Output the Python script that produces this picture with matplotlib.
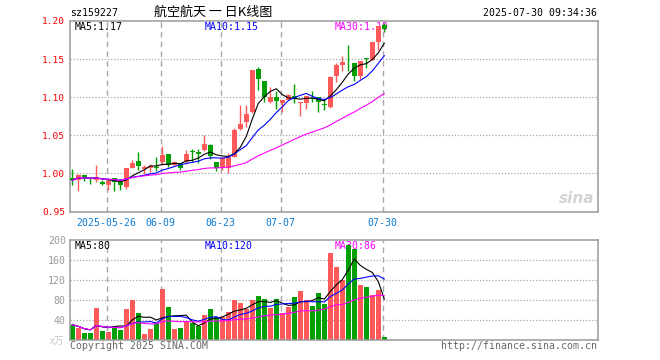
import matplotlib
matplotlib.use("Agg")
import matplotlib.pyplot as plt
import numpy as np
import pandas as pd

# ---------------- data ----------------
dates = ["05-16", "05-19", "05-20", "05-21", "05-22", "05-23", "05-26", "05-27", "05-28", "05-29",
         "05-30", "06-03", "06-04", "06-05", "06-06", "06-09", "06-10", "06-11", "06-12", "06-13",
         "06-16", "06-17", "06-18", "06-19", "06-20", "06-23", "06-24", "06-25", "06-26", "06-27",
         "06-30", "07-01", "07-02", "07-03", "07-04", "07-07", "07-08", "07-09", "07-10", "07-11",
         "07-14", "07-15", "07-16", "07-17", "07-18", "07-21", "07-22", "07-23", "07-24", "07-25",
         "07-28", "07-29", "07-30"]
opens = [0.994, 0.991, 0.998, 0.9934, 0.9917, 0.9886, 0.9846, 0.9943, 0.989, 0.9816,
         1.0075, 1.0167, 1.0053, 1.0074, 1.0087, 1.0150, 1.0250, 1.0110, 1.0140, 1.0150,
         1.0294, 1.0276, 1.0307, 1.0373, 1.0145, 1.0070, 1.0075, 1.0210, 1.0583, 1.0680,
         1.0810, 1.1370, 1.1210, 1.0943, 1.1000, 1.0920, 1.0965, 1.1022, 1.0930, 1.0921,
         1.0996, 1.1000, 1.0912, 1.0868, 1.1272, 1.1417, 1.1490, 1.1447, 1.1272, 1.1513,
         1.1482, 1.1728, 1.1950]
highs = [1.006, 0.999, 0.998, 0.9956, 1.0105, 0.9908, 0.9917, 0.9943, 0.992, 1.0070,
         1.0176, 1.0285, 1.0110, 1.0120, 1.0210, 1.0360, 1.0250, 1.0160, 1.0140, 1.0310,
         1.0320, 1.0320, 1.0500, 1.0390, 1.0145, 1.0210, 1.0263, 1.0592, 1.0899, 1.0899,
         1.1360, 1.1400, 1.1215, 1.1140, 1.1075, 1.0965, 1.1044, 1.1175, 1.0939, 1.1022,
         1.1083, 1.1000, 1.0978, 1.1272, 1.1447, 1.1544, 1.1680, 1.1447, 1.1478, 1.1513,
         1.1728, 1.1930, 1.1970]
lows = [0.985, 0.977, 0.990, 0.9855, 0.989, 0.9846, 0.978, 0.977, 0.978, 0.979,
        1.0066, 1.0044, 0.9987, 1.0020, 1.0035, 1.0110, 1.0090, 1.0100, 1.0040, 1.0120,
        1.0150, 1.0140, 1.0300, 1.0190, 1.0030, 1.0050, 1.0000, 1.0211, 1.0570, 1.0614,
        1.0789, 1.1097, 1.0943, 1.0930, 1.0842, 1.0811, 1.0965, 1.0921, 1.0759, 1.0842,
        1.0934, 1.0811, 1.0833, 1.0855, 1.1193, 1.1338, 1.1338, 1.1219, 1.1237, 1.1382,
        1.1482, 1.1623, 1.1860]
closes = [0.9908, 0.998, 0.9934, 0.9925, 0.995, 0.9864, 0.9899, 0.989, 0.9846, 1.0070,
          1.0136, 1.0101, 1.0083, 1.0100, 1.0065, 1.0240, 1.0110, 1.0144, 1.0075, 1.0254,
          1.0276, 1.0260, 1.0386, 1.0230, 1.0066, 1.0206, 1.0220, 1.0570, 1.0649, 1.0780,
          1.1351, 1.1240, 1.1009, 1.1000, 1.0956, 1.0965, 1.1026, 1.0982, 1.0939, 1.1022,
          1.0978, 1.0934, 1.0895, 1.1259, 1.1425, 1.1465, 1.1482, 1.1272, 1.1478, 1.1504,
          1.1728, 1.1930, 1.1900]
volumes = [30.7, 24.0, 13.3, 13.3, 63.3, 17.3, 16.5, 24.0, 19.3, 61.3,
           80.0, 53.3, 12.7, 21.3, 33.3, 101.3, 65.3, 21.3, 23.3, 37.3,
           33.3, 27.3, 49.3, 61.3, 46.7, 45.3, 55.3, 80.0, 73.3, 63.0,
           80.0, 87.3, 81.3, 64.0, 81.3, 54.7, 65.3, 85.3, 97.3, 80.0,
           67.3, 93.3, 71.3, 173.3, 145.3, 120.0, 190.7, 181.3, 109.3, 105.3,
           89.3, 100.0, 5.3]
date_ticks = ["05-26", "06-09", "06-23", "07-07", "07-30"]
date_tick_labels = ["2025-05-26", "06-09", "06-23", "07-07", "07-30"]
price_ticks = [0.95, 1.00, 1.05, 1.10, 1.15, 1.20]
vol_ticks = [40, 80, 120, 160, 200]
price_ma_labels = ["MA5:1.17", "MA10:1.15", "MA30:1.10"]
vol_ma_labels = ["MA5:80", "MA10:120", "MA30:86"]
title = "航空航天 一 日K线图"
code = "sz159227"
stamp = "2025-07-30 09:34:36"

# ---------------- style ----------------
W, H = 660, 360
RED = "#ff5a5a"
GREEN = "#00a000"
GRID = "#a8a8a8"
BORDER = "#9a9a9a"
MONO = "DejaVu Sans Mono"
ma_colors = ["black", "#0000ff", "#ff00ff"]
ma_windows = [5, 10, 30]

fig = plt.figure(figsize=(W / 100, H / 100), dpi=100)


def fr(x0, y0, x1, y1):
    return [x0 / W, 1 - y1 / H, (x1 - x0) / W, (y1 - y0) / H]


ax = fig.add_axes(fr(70, 21, 597.7, 211.5))
axv = fig.add_axes(fr(70, 240, 597.7, 340))

n = len(dates)
x = np.arange(n)
o = np.array(opens); c = np.array(closes); h = np.array(highs); l = np.array(lows)
v = np.array(volumes)
up = c >= o
cols = np.where(up, RED, GREEN)
xlim = (-0.383, 87.57)

for a in (ax, axv):
    a.set_xlim(*xlim)
    for s in a.spines.values():
        s.set_color(BORDER)
        s.set_linewidth(1.1)
    a.tick_params(length=0)
    a.set_axisbelow(True)

# grids
tick_idx = [dates.index(d) for d in date_ticks]
for a in (ax, axv):
    for ti in tick_idx:
        a.axvline(ti - 0.28, color=GRID, lw=1.0, ls=(0, (4, 3)), zorder=0)

for pt in price_ticks[1:-1]:
    ax.axhline(pt, color=GRID, lw=0.9, ls=(0, (1, 1.5)), zorder=0)
for vt in vol_ticks[:-1]:
    axv.axhline(vt, color=GRID, lw=0.9, ls=(0, (1, 1.5)), zorder=0)

# MA legends (drawn beneath the marks, as in the reference)
for lab, col, px in zip(price_ma_labels, ma_colors, [75, 205, 335]):
    ax.text(px / W, 1 - 26.5 / H, lab, color=col, family=MONO, fontsize=7.1, va="center",
            ha="left", transform=fig.transFigure, zorder=1)
for lab, col, px in zip(vol_ma_labels, ma_colors, [75, 205, 335]):
    axv.text(px / W, 1 - 246 / H, lab, color=col, family=MONO, fontsize=7.1, va="center",
             ha="left", transform=fig.transFigure, zorder=1)

# candles
ax.vlines(x, l, h, colors=cols, lw=1.0, zorder=2)
body_lo = np.minimum(o, c)
body_h = np.maximum(np.abs(c - o), 0.0006)
ax.bar(x, body_h, bottom=body_lo, width=0.78, color=cols, zorder=3, linewidth=0)

cs = pd.Series(c)
for w, col in zip(ma_windows, ma_colors):
    ax.plot(x, cs.rolling(w, min_periods=1).mean(), color=col, lw=0.8, zorder=4)

ax.set_ylim(price_ticks[0], price_ticks[-1])
ax.set_yticks(price_ticks)
ax.set_yticklabels([f"{p:.2f}" for p in price_ticks], color="red", family=MONO, fontsize=6.8)
ax.tick_params(axis="y", pad=3.5)
ax.set_xticks([ti - 0.28 for ti in tick_idx])
ax.set_xticklabels(date_tick_labels, color="#0a7ad2", family=MONO, fontsize=7.1)
ax.tick_params(axis="x", pad=4.5)

# volume
axv.bar(x, v, width=0.85, color=cols, linewidth=0, zorder=2)
vs = pd.Series(v)
for w, col in zip(ma_windows, ma_colors):
    axv.plot(x, vs.rolling(w, min_periods=1).mean(), color=col, lw=0.8, zorder=4)
axv.set_ylim(0, 200)
axv.set_yticks(vol_ticks)
axv.set_yticklabels([str(t) for t in vol_ticks], color="#9a9a9a", family=MONO, fontsize=7.1)
axv.tick_params(axis="y", pad=3)
axv.set_xticks([])

# headers
fig.text(70 / W, 1 - 13 / H, code, color="black", family=MONO, fontsize=7.1, va="center", ha="left")
fig.text(213.5 / W, 1 - 12 / H, title, color="black", family=["Noto Sans CJK SC", "DejaVu Sans"],
         fontsize=9.4, va="center", ha="center")
fig.text(597 / W, 1 - 13 / H, stamp, color="black", family=MONO, fontsize=7.1, va="center", ha="right")

# footer
fig.text(70 / W, 1 - 346 / H, "Copyright 2025 SINA.COM", color="#666666", family=MONO,
         fontsize=7.1, va="center", ha="left")
fig.text(597 / W, 1 - 346 / H, "http://finance.sina.com.cn", color="#666666", family=MONO,
         fontsize=7.1, va="center", ha="right")
fig.text(64 / W, 1 - 341 / H, "x万", color="#c8c8c8", family=["Noto Sans CJK SC", "DejaVu Sans"],
         fontsize=7, va="center", ha="right")

# watermark
fig.text(594 / W, 1 - 198 / H, "sina", color="#d4d4d4", fontsize=11, style="italic",
         weight="bold", va="center", ha="right")

fig.savefig("out.png", dpi=100)
